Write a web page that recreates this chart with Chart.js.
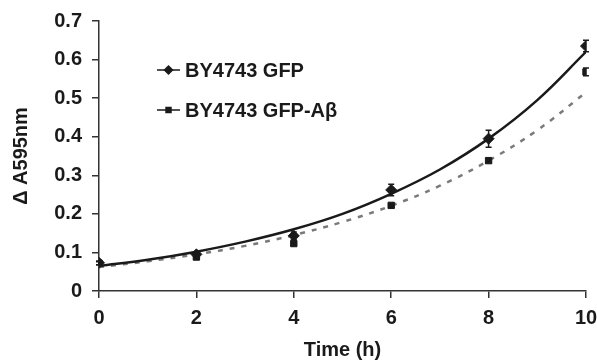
<!DOCTYPE html>
<html>
<head>
<meta charset="utf-8">
<script src="https://cdn.jsdelivr.net/npm/chart.js@4"></script>
<style>
  html, body { margin: 0; padding: 0; background: #fff; }
  #wrap { width: 597px; height: 362px; }
</style>
</head>
<body>
<div id="wrap"><canvas id="chart" width="597" height="362"></canvas></div>
<script>
// measured points (time in h, delta A595nm)
const times = [0, 2, 4, 6, 8, 10];
const gfpValues = [0.073, 0.095, 0.143, 0.262, 0.395, 0.635];
const gfpErrors = [0.005, 0.005, 0.01, 0.015, 0.022, 0.015];
const abValues = [0.072, 0.088, 0.123, 0.222, 0.338, 0.568];
const abErrors = [0.004, 0.005, 0.005, 0.004, 0.005, 0.01];

// trend lines at each hour
const fitTimes = [0, 1, 2, 3, 4, 5, 6, 7, 8, 9, 10];
const gfpFit = [0.065, 0.081, 0.102, 0.128, 0.160, 0.200, 0.252, 0.315, 0.395, 0.495, 0.620];
const abFit = [0.062, 0.077, 0.095, 0.117, 0.145, 0.179, 0.221, 0.273, 0.338, 0.417, 0.515];

const xTicks = [0, 2, 4, 6, 8, 10];
const yTicks = [0, 0.1, 0.2, 0.3, 0.4, 0.5, 0.6, 0.7];
const legendLabels = ['BY4743 GFP', 'BY4743 GFP-A\u03b2'];

const INK = '#1a1a1a';
const AXIS = '#333';
const FONT = '"Liberation Sans", Arial, sans-serif';

function toPoints(xs, ys) {
    return xs.map((x, i) => ({ x: x, y: ys[i] }));
}

//Draws the error bars for the two point series
const errorBars = {
    id: 'errorBars',
    afterDatasetsDraw(chart) {
        const ctx = chart.ctx;
        const xs = chart.scales.x;
        const ys = chart.scales.y;
        const sets = [[gfpValues, gfpErrors], [abValues, abErrors]];
        ctx.save();
        ctx.strokeStyle = INK;
        ctx.lineWidth = 1.5;
        sets.forEach(([vals, errs]) => {
            vals.forEach((v, i) => {
                const px = xs.getPixelForValue(times[i]);
                const top = ys.getPixelForValue(v + errs[i]);
                const bot = ys.getPixelForValue(v - errs[i]);
                ctx.beginPath();
                ctx.moveTo(px, top);
                ctx.lineTo(px, bot);
                ctx.moveTo(px - 3, top);
                ctx.lineTo(px + 3, top);
                ctx.moveTo(px - 3, bot);
                ctx.lineTo(px + 3, bot);
                ctx.stroke();
            });
        });
        ctx.restore();
    }
};

//Legend sits inside the plot, top left
const insideLegend = {
    id: 'insideLegend',
    afterDraw(chart) {
        const ctx = chart.ctx;
        const area = chart.chartArea;
        const styles = ['rectRot', 'rect'];
        const radii = [4, 3.5];
        ctx.save();
        legendLabels.forEach((label, i) => {
            const y = area.top + 49 + i * 40;
            const x0 = area.left + 58;
            ctx.strokeStyle = INK;
            ctx.lineWidth = 1.5;
            ctx.beginPath();
            ctx.moveTo(x0, y);
            ctx.lineTo(x0 + 23, y);
            ctx.stroke();
            ctx.fillStyle = INK;
            Chart.helpers.drawPoint(ctx, { pointStyle: styles[i], radius: radii[i], borderWidth: 1 }, x0 + 11.5, y);
            ctx.fillStyle = INK;
            ctx.font = 'bold 20px ' + FONT;
            ctx.textBaseline = 'middle';
            ctx.textAlign = 'left';
            ctx.fillText(label, x0 + 28, y + 1);
        });
        ctx.restore();
    }
};

new Chart(document.getElementById('chart'), {
    type: 'scatter',
    data: {
        datasets: [
            {
                label: 'GFP fit',
                type: 'line',
                data: toPoints(fitTimes, gfpFit),
                borderColor: INK,
                borderWidth: 2.5,
                pointRadius: 0,
                tension: 0.4,
                fill: false,
                order: 3
            },
            {
                label: 'GFP-Ab fit',
                type: 'line',
                data: toPoints(fitTimes, abFit),
                borderColor: '#7a7a7a',
                borderWidth: 2.5,
                borderDash: [5, 7],
                pointRadius: 0,
                tension: 0.4,
                fill: false,
                order: 4
            },
            {
                label: legendLabels[0],
                data: toPoints(times, gfpValues),
                pointStyle: 'rectRot',
                pointRadius: 5.5,
                backgroundColor: INK,
                borderColor: INK,
                order: 1
            },
            {
                label: legendLabels[1],
                data: toPoints(times, abValues),
                pointStyle: 'rect',
                pointRadius: 4.5,
                backgroundColor: INK,
                borderColor: INK,
                order: 2
            }
        ]
    },
    options: {
        responsive: false,
        animation: false,
        layout: { padding: { top: 21, right: 11, left: 0, bottom: 0 } },
        plugins: {
            legend: { display: false },
            tooltip: { enabled: false }
        },
        scales: {
            x: {
                type: 'linear',
                min: 0,
                max: 10,
                afterFit: (scale) => {
                    scale.height = 71;
                    scale.paddingLeft = 0;
                    scale.paddingRight = 0;
                },
                afterBuildTicks: (scale) => { scale.ticks = xTicks.map(v => ({ value: v })); },
                grid: { drawOnChartArea: false, drawTicks: true, tickLength: 7, color: AXIS, lineWidth: 1.5 },
                border: { color: AXIS, width: 1.5 },
                ticks: { color: INK, font: { family: FONT, size: 20, weight: 'bold' }, padding: 8, maxRotation: 0 },
                title: { display: true, text: 'Time (h)', color: INK, font: { family: FONT, size: 20, weight: 'bold' }, padding: { top: 0, bottom: 0 } }
            },
            y: {
                type: 'linear',
                min: 0,
                max: 0.7,
                afterFit: (scale) => {
                    scale.width = 99;
                    scale.paddingTop = 0;
                    scale.paddingBottom = 0;
                },
                afterBuildTicks: (scale) => { scale.ticks = yTicks.map(v => ({ value: v })); },
                grid: { drawOnChartArea: false, drawTicks: true, tickLength: 7, color: AXIS, lineWidth: 1.5 },
                border: { color: AXIS, width: 1.5 },
                ticks: {
                    color: INK,
                    font: { family: FONT, size: 20, weight: 'bold' },
                    padding: 10,
                    callback: (v) => v === 0 ? '0' : v.toFixed(1)
                },
                title: { display: true, text: '\u0394 A595nm', color: INK, font: { family: FONT, size: 20, weight: 'bold' }, padding: { top: 9, bottom: 0 } }
            }
        }
    },
    plugins: [errorBars, insideLegend]
});
</script>
</body>
</html>
